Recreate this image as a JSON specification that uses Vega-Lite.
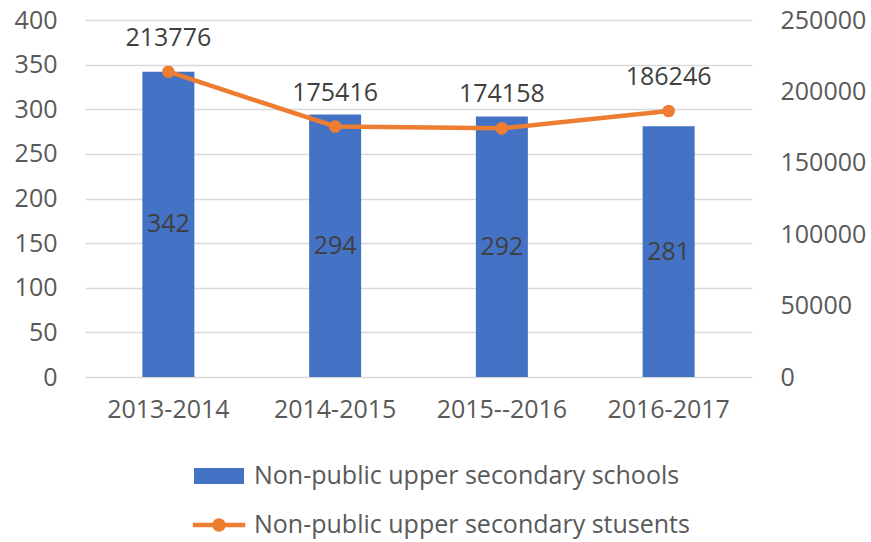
{
  "$schema": "https://vega.github.io/schema/vega-lite/v6.json",
  "width": 667,
  "height": 357,
  "autosize": {"type": "none"},
  "padding": {"left": 85, "top": 20, "right": 119, "bottom": 165},
  "background": "white",
  "data": {
    "values": [
      {"period": "2013-2014", "schools": 342, "students": 213776},
      {"period": "2014-2015", "schools": 294, "students": 175416},
      {"period": "2015--2016", "schools": 292, "students": 174158},
      {"period": "2016-2017", "schools": 281, "students": 186246}
    ]
  },
  "config": {
    "font": "Open Sans",
    "view": {"stroke": null},
    "axis": {
      "labelFont": "Open Sans",
      "labelFontSize": 25,
      "labelColor": "#595959",
      "domain": false,
      "ticks": false,
      "title": null
    }
  },
  "encoding": {
    "x": {
      "field": "period",
      "type": "nominal",
      "sort": null,
      "scale": {"paddingInner": 0, "paddingOuter": 0},
      "axis": {"labelAngle": 0, "labelPadding": 20, "domain": false}
    }
  },
  "layer": [
    {
      "mark": {"type": "bar", "size": 52},
      "encoding": {
        "y": {
          "field": "schools",
          "type": "quantitative",
          "scale": {"domain": [0, 400]},
          "axis": {
            "orient": "left",
            "values": [0, 50, 100, 150, 200, 250, 300, 350, 400],
            "grid": true,
            "gridColor": "#D9D9D9",
            "gridWidth": 1.5,
            "labelPadding": 28
          }
        },
        "color": {
          "datum": "Non-public upper secondary schools",
          "type": "nominal",
          "scale": {
            "domain": ["Non-public upper secondary schools", "Non-public upper secondary stusents"],
            "range": ["#4472C4", "#ED7D31"]
          },
          "legend": {
            "title": null,
            "orient": "none",
            "legendX": 109,
            "legendY": 431,
            "direction": "vertical",
            "symbolSize": 2500,
            "symbolStrokeWidth": 0,
            "labelFont": "Open Sans",
            "labelFontSize": 25,
            "labelColor": "#595959",
            "labelOffset": 10,
            "labelLimit": 600,
            "rowPadding": 11,
            "padding": 0,
            "encode": {
              "symbols": {
                "update": {
                  "shape": {"signal": "datum.value == 'Non-public upper secondary schools' ? 'M-1,-0.32L1,-0.32L1,0.32L-1,0.32Z' : 'M-1.05,-0.09L1.05,-0.09L1.05,0.09L-1.05,0.09Z M-0.27,0 A0.27,0.27 0 1,1 0.27,0 A0.27,0.27 0 1,1 -0.27,0 Z'"},
                  "fill": {"signal": "datum.value == 'Non-public upper secondary schools' ? '#4472C4' : '#ED7D31'"},
                  "strokeWidth": {"value": 0},
                  "opacity": {"value": 1},
                  "fillOpacity": {"value": 1}
                }
              }
            }
          }
        }
      }
    },
    {
      "mark": {"type": "text", "fontSize": 25, "color": "#404040", "baseline": "middle", "font": "Open Sans"},
      "encoding": {
        "y": {"field": "schools", "type": "quantitative", "scale": {"domain": [0, 800]}, "axis": null},
        "text": {"field": "schools", "type": "quantitative"}
      }
    },
    {
      "mark": {"type": "line", "strokeWidth": 4.5, "point": {"size": 160, "filled": true, "opacity": 1}},
      "encoding": {
        "y": {
          "field": "students",
          "type": "quantitative",
          "scale": {"domain": [0, 250000]},
          "axis": {
            "orient": "right",
            "values": [0, 50000, 100000, 150000, 200000, 250000],
            "grid": false,
            "labelPadding": 28,
            "format": "d"
          }
        },
        "color": {"datum": "Non-public upper secondary stusents", "type": "nominal"}
      }
    },
    {
      "mark": {"type": "text", "fontSize": 25, "color": "#404040", "baseline": "middle", "dy": -34, "font": "Open Sans"},
      "encoding": {
        "y": {"field": "students", "type": "quantitative", "scale": {"domain": [0, 250000]}, "axis": null},
        "text": {"field": "students", "type": "quantitative", "format": "d"}
      }
    }
  ],
  "resolve": {"scale": {"y": "independent"}}
}
